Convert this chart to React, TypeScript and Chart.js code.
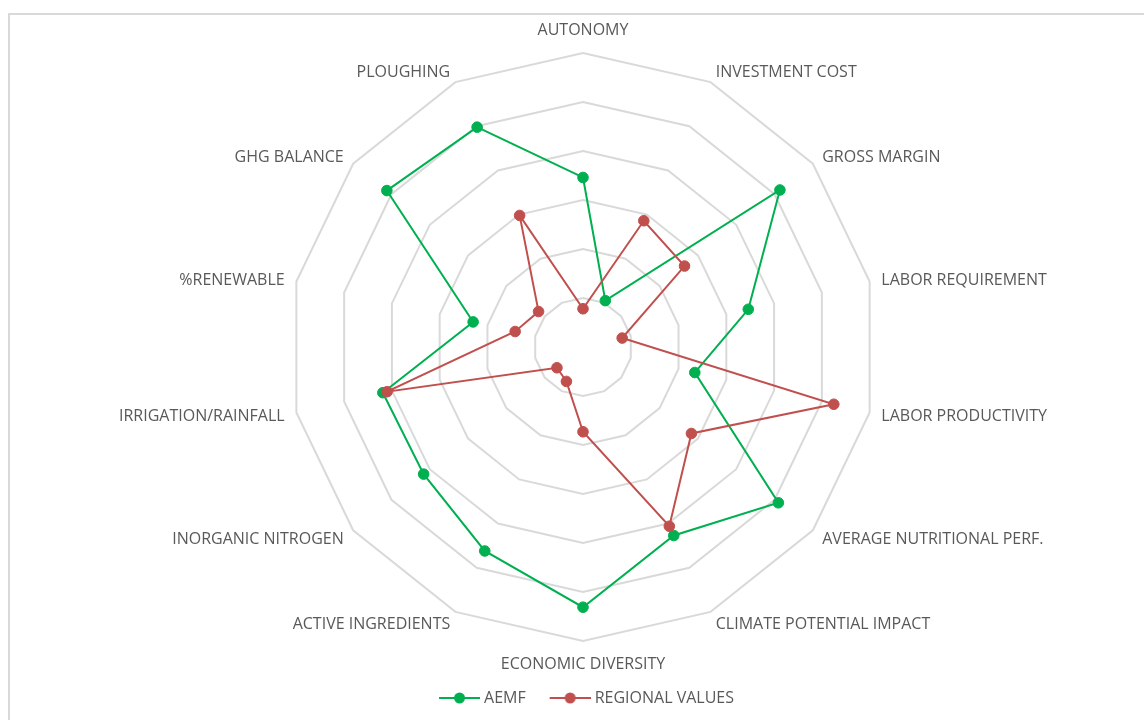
import React, { useEffect, useRef } from "react";
import { Chart, registerables } from "chart.js";

Chart.register(...registerables);

const categories: string[] = [
  "AUTONOMY",
  "INVESTMENT COST",
  "GROSS MARGIN",
  "LABOR REQUIREMENT",
  "LABOR PRODUCTIVITY",
  "AVERAGE NUTRITIONAL PERF.",
  "CLIMATE POTENTIAL IMPACT",
  "ECONOMIC DIVERSITY",
  "ACTIVE INGREDIENTS",
  "INORGANIC NITROGEN",
  "IRRIGATION/RAINFALL",
  "%RENEWABLE",
  "GHG BALANCE",
  "PLOUGHING",
];

const aemfValues: number[] = [3.46, 1.05, 5.14, 3.46, 2.34, 5.1, 4.27, 5.31, 4.62, 4.16, 4.19, 2.3, 5.12, 4.98];
const regionalValues: number[] = [0.78, 2.86, 2.65, 0.82, 5.25, 2.83, 4.06, 1.73, 0.78, 0.68, 4.1, 1.42, 1.16, 2.98];

const seriesNames: string[] = ["AEMF", "REGIONAL VALUES"];
const seriesColors: string[] = ["#00b050", "#c0504d"];

const scaleMin = 0;
const scaleMax = 6;
const scaleStep = 1;

const TEXT_COLOR = "#595959";
const FONT = '16px "Open Sans", "DejaVu Sans", sans-serif';

function makeLegendImage(color: string): HTMLCanvasElement {
  const c = document.createElement("canvas");
  c.width = 52;
  c.height = 14;
  const g = c.getContext("2d")!;
  g.strokeStyle = color;
  g.lineWidth = 2;
  g.beginPath();
  g.moveTo(11, 7);
  g.lineTo(52, 7);
  g.stroke();
  g.fillStyle = color;
  g.beginPath();
  g.arc(31.5, 7, 5.5, 0, Math.PI * 2);
  g.fill();
  return c;
}

const pointLabelPlugin = {
  id: "customPointLabels",
  afterDraw(chart: any) {
    const scale = chart.scales.r;
    const labels: string[] = chart.data.labels;
    const ctx = chart.ctx;
    const n = labels.length;
    ctx.save();
    ctx.font = FONT;
    ctx.fillStyle = TEXT_COLOR;
    ctx.textBaseline = "middle";
    labels.forEach((label, i) => {
      const isVertical = i === 0 || (n % 2 === 0 && i === n / 2);
      const dist = scale.drawingArea + (isVertical ? 23 : 12);
      const pos = scale.getPointPosition(i, dist);
      if (isVertical) ctx.textAlign = "center";
      else if (i < n / 2) ctx.textAlign = "left";
      else ctx.textAlign = "right";
      ctx.fillText(label, pos.x, pos.y + (isVertical ? 0.5 : 1.5));
    });
    ctx.restore();
  },
};

export default function App() {
  const canvasRef = useRef<HTMLCanvasElement | null>(null);

  useEffect(() => {
    if (!canvasRef.current) return;
    const legendImages = seriesColors.map((c) => makeLegendImage(c));
    const chart = new Chart(canvasRef.current, {
      type: "radar",
      data: {
        labels: categories,
        datasets: [
          {
            label: seriesNames[0],
            data: aemfValues,
            borderColor: seriesColors[0],
            backgroundColor: seriesColors[0],
            pointBackgroundColor: seriesColors[0],
            pointBorderColor: seriesColors[0],
            borderWidth: 2,
            pointRadius: 5.3,
            pointBorderWidth: 1,
            fill: false,
            tension: 0,
            order: 1,
          },
          {
            label: seriesNames[1],
            data: regionalValues,
            borderColor: seriesColors[1],
            backgroundColor: seriesColors[1],
            pointBackgroundColor: seriesColors[1],
            pointBorderColor: seriesColors[1],
            borderWidth: 2,
            pointRadius: 5.3,
            pointBorderWidth: 1,
            fill: false,
            tension: 0,
            order: 0,
          },
        ],
      },
      options: {
        responsive: false,
        animation: false,
        layout: { padding: { left: 289, right: 267, top: 21, bottom: 4 } },
        scales: {
          r: {
            min: scaleMin,
            max: scaleMax,
            ticks: { display: false, stepSize: scaleStep },
            grid: { color: "#d9d9d9", lineWidth: 2 },
            angleLines: { display: false },
            pointLabels: { display: false },
          },
        },
        plugins: {
          tooltip: { enabled: false },
          legend: {
            position: "bottom",
            labels: {
              usePointStyle: true,
              pointStyleWidth: 44,
              padding: 17,
              color: TEXT_COLOR,
              font: { family: '"Open Sans", "DejaVu Sans", sans-serif', size: 16 },
              generateLabels: (ch: any) =>
                ch.data.datasets.map((ds: any, i: number) => ({
                  text: ds.label,
                  fillStyle: ds.backgroundColor,
                  strokeStyle: ds.borderColor,
                  lineWidth: 0,
                  pointStyle: legendImages[i],
                  hidden: false,
                  datasetIndex: i,
                  fontColor: TEXT_COLOR,
                })),
            },
          },
        },
      },
      plugins: [pointLabelPlugin],
    } as any);
    return () => chart.destroy();
  }, []);

  return (
    <div
      style={{
        position: "fixed",
        left: 0,
        top: 0,
        width: 1144,
        height: 720,
        overflow: "hidden",
        background: "#ffffff",
      }}
    >
      <div
        style={{
          position: "absolute",
          left: 8,
          top: 13,
          width: 1400,
          height: 1000,
          border: "2px solid #d9d9d9",
          boxSizing: "border-box",
        }}
      />
      <canvas
        ref={canvasRef}
        width={1144}
        height={720}
        style={{ position: "absolute", left: 0, top: 0, width: 1144, height: 720 }}
      />
    </div>
  );
}
